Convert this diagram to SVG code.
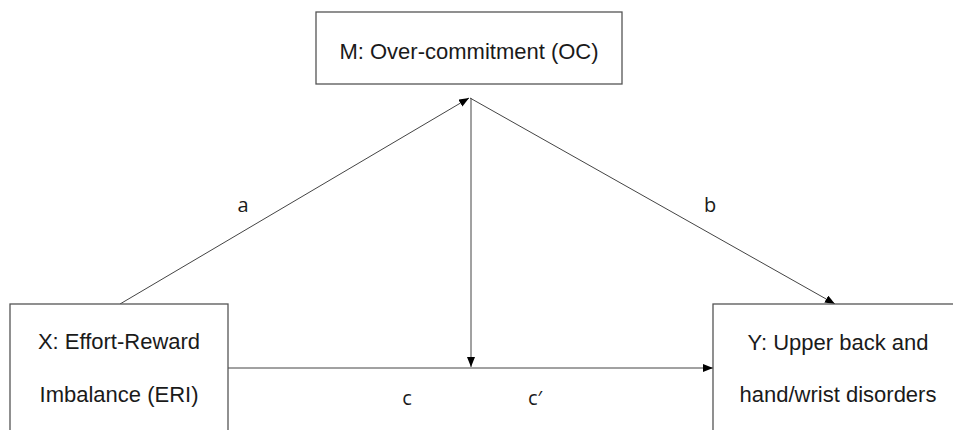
<svg xmlns="http://www.w3.org/2000/svg" width="953" height="430" viewBox="0 0 953 430">
<defs>
<marker id="ah" markerUnits="userSpaceOnUse" markerWidth="11" markerHeight="9" refX="10" refY="4" orient="auto">
<path d="M0,0 L10,4 L0,8 z" fill="#000"/>
</marker>
<style>
.box{fill:#fff;stroke:#555;stroke-width:1.3}
.t{font-family:"Liberation Sans",Arial,sans-serif;font-size:22px;fill:#1a1a1a;text-anchor:middle}
.l{font-family:"Open Sans","Liberation Sans",sans-serif;font-size:20px;fill:#1a1a1a;text-anchor:middle}
.c{fill:none;stroke:#444;stroke-width:1}
</style>
</defs>
<rect width="953" height="430" fill="#fff"/>
<g id="connectors">
<line class="c" x1="120" y1="304" x2="469" y2="98" marker-end="url(#ah)"/>
<line class="c" x1="470" y1="98" x2="835" y2="304" marker-end="url(#ah)"/>
<line class="c" x1="471" y1="98" x2="471" y2="367" marker-end="url(#ah)"/>
<line class="c" x1="228" y1="368" x2="713" y2="368" marker-end="url(#ah)"/>
<text class="l" x="243" y="212">a</text>
<text class="l" x="710" y="212">b</text>
<text class="l" x="407" y="405">c</text>
<text class="l" x="535" y="405">c′</text>
</g>
<g id="M">
<rect class="box" x="316" y="12" width="306" height="72"/>
<text class="t" x="469" y="59">M: Over-commitment (OC)</text>
</g>
<g id="X">
<rect class="box" x="10" y="304" width="218" height="140"/>
<text class="t" x="119" y="349">X: Effort-Reward</text>
<text class="t" x="119" y="402">Imbalance (ERI)</text>
</g>
<g id="Y">
<rect class="box" x="713" y="304" width="260" height="140"/>
<text class="t" x="838" y="350">Y: Upper back and</text>
<text class="t" x="838" y="402">hand/wrist disorders</text>
</g>
</svg>
